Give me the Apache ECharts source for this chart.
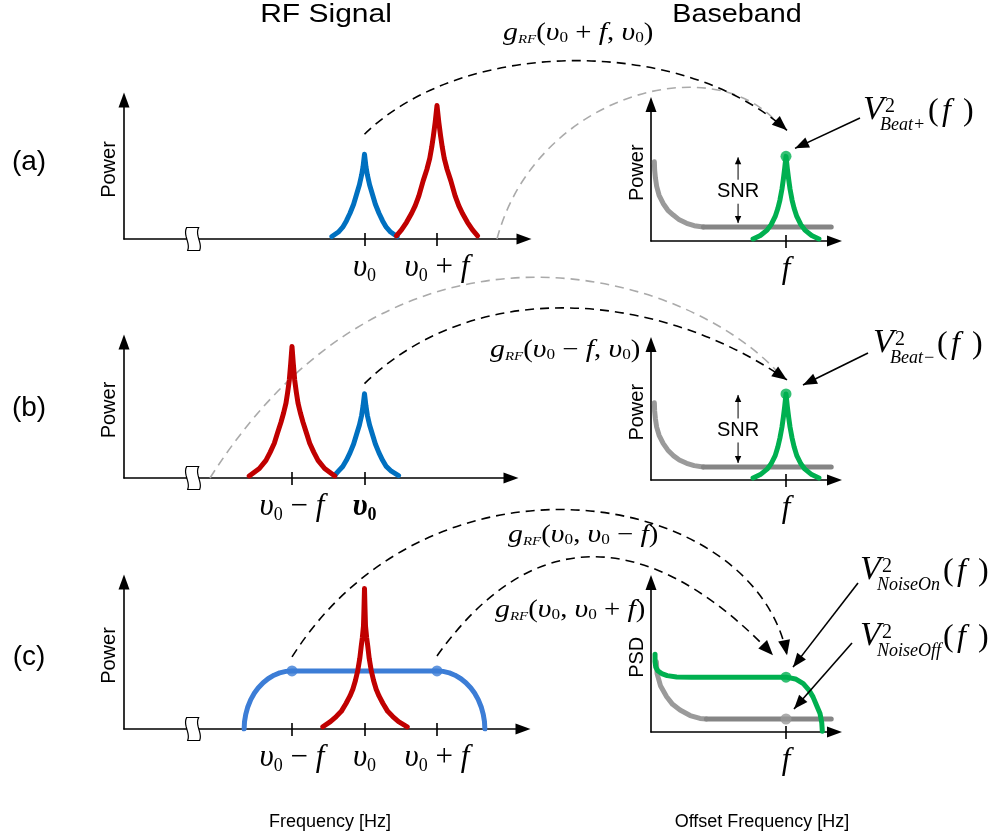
<!DOCTYPE html>
<html><head><meta charset="utf-8">
<script src="https://cdn.jsdelivr.net/npm/echarts@6/dist/echarts.min.js"></script>
<style>html,body{margin:0;padding:0;background:#fff}#c{width:997px;height:839px}</style>
</head><body><div id="c"></div>
<script>
// ---------------- data ----------------
// RF panels: x in units of f, nu0 = 0
const rfTicksA = [0, 1];
const rfTicksB = [-1, 0];
const rfTicksC = [-1, 0, 1];
const bbTicks = [1];
const rfTickText = { '-1': 'υ0 − f', '0': 'υ0', '1': 'υ0 + f' };
const bbTickText = { '1': 'f' };

const blueA = [[-0.45,0.018],[-0.36,0.05],[-0.3,0.085],[-0.25,0.13],[-0.2,0.185],[-0.15,0.25],[-0.11,0.32],[-0.07,0.39],[-0.04,0.46],[-0.02,0.52],[0,0.61],[0.02,0.52],[0.04,0.46],[0.07,0.39],[0.11,0.32],[0.15,0.25],[0.2,0.185],[0.25,0.13],[0.3,0.085],[0.36,0.05],[0.45,0.018]];
const redA = [[0.44,0.022],[0.51,0.065],[0.58,0.12],[0.65,0.185],[0.7,0.24],[0.75,0.31],[0.81,0.42],[0.86,0.50],[0.9,0.58],[0.927,0.66],[0.95,0.74],[0.975,0.84],[1,0.96],[1.025,0.84],[1.05,0.74],[1.073,0.66],[1.1,0.58],[1.14,0.50],[1.19,0.42],[1.25,0.31],[1.3,0.24],[1.35,0.185],[1.42,0.12],[1.49,0.065],[1.56,0.022]];

const redB = [[-1.59,0.015],[-1.45,0.07],[-1.359,0.13],[-1.3,0.19],[-1.244,0.255],[-1.2,0.33],[-1.152,0.41],[-1.115,0.48],[-1.083,0.55],[-1.06,0.63],[-1.037,0.72],[-1.018,0.84],[-1,0.967],[-0.982,0.84],[-0.963,0.72],[-0.94,0.63],[-0.917,0.55],[-0.885,0.48],[-0.848,0.41],[-0.8,0.33],[-0.756,0.255],[-0.7,0.19],[-0.641,0.13],[-0.55,0.07],[-0.41,0.015]];
const blueB = [[-0.41,0.02],[-0.36,0.05],[-0.3,0.085],[-0.25,0.13],[-0.2,0.185],[-0.15,0.25],[-0.11,0.32],[-0.07,0.39],[-0.04,0.46],[-0.02,0.53],[0,0.62],[0.02,0.53],[0.04,0.46],[0.07,0.39],[0.11,0.32],[0.15,0.25],[0.2,0.185],[0.25,0.13],[0.3,0.085],[0.37,0.05],[0.47,0.018]];

const plateauC = [[-1.66,0],[-1.655,0.05],[-1.638,0.1],[-1.61,0.15],[-1.569,0.2],[-1.518,0.245],[-1.467,0.279],[-1.398,0.315],[-1.33,0.342],[-1.248,0.366],[-1.171,0.3815],[-1.083,0.392],[-1,0.395],[1,0.395],[1.083,0.392],[1.171,0.3815],[1.248,0.366],[1.33,0.342],[1.398,0.315],[1.467,0.279],[1.518,0.245],[1.569,0.2],[1.61,0.15],[1.638,0.1],[1.655,0.05],[1.66,0]];
const plateauDotsC = [[-1,0.395],[1,0.395]];
const redC = [[-0.575,0.015],[-0.47,0.05],[-0.39,0.085],[-0.32,0.12],[-0.253,0.175],[-0.2,0.225],[-0.161,0.27],[-0.125,0.33],[-0.092,0.40],[-0.065,0.48],[-0.046,0.56],[-0.03,0.62],[-0.014,0.70],[-0.007,0.82],[0,0.956],[0.007,0.82],[0.014,0.70],[0.03,0.62],[0.046,0.56],[0.065,0.48],[0.092,0.40],[0.125,0.33],[0.161,0.27],[0.2,0.225],[0.253,0.175],[0.32,0.12],[0.39,0.085],[0.47,0.05],[0.59,0.015]];

// Baseband panels: x in units of f
const grayCurveA = [[0.025,0.58],[0.027,0.52],[0.033,0.46],[0.042,0.40],[0.06,0.335],[0.09,0.275],[0.125,0.225],[0.165,0.19],[0.21,0.155],[0.264,0.13],[0.32,0.112],[0.388,0.102]];
const grayFlatA = [[0.388,0.102],[1.335,0.102]];
const greenA = [[0.756,0.015],[0.81,0.04],[0.86,0.08],[0.89,0.12],[0.92,0.18],[0.94,0.24],[0.955,0.30],[0.97,0.38],[0.98,0.45],[0.99,0.53],[1,0.62],[1.01,0.53],[1.02,0.45],[1.03,0.38],[1.045,0.30],[1.06,0.24],[1.08,0.18],[1.11,0.12],[1.14,0.08],[1.19,0.04],[1.244,0.015]];
const greenDotA = [[1,0.62]];

const grayCurveB = [[0.025,0.57],[0.027,0.51],[0.033,0.45],[0.042,0.39],[0.06,0.33],[0.09,0.27],[0.125,0.22],[0.165,0.18],[0.21,0.148],[0.264,0.123],[0.32,0.106],[0.388,0.096]];
const grayFlatB = [[0.388,0.096],[1.335,0.096]];
const greenB = [[0.756,0.015],[0.81,0.04],[0.86,0.08],[0.89,0.12],[0.92,0.18],[0.94,0.245],[0.955,0.31],[0.97,0.39],[0.98,0.46],[0.99,0.54],[1,0.635],[1.01,0.54],[1.02,0.46],[1.03,0.39],[1.045,0.31],[1.06,0.245],[1.08,0.18],[1.11,0.12],[1.14,0.08],[1.19,0.04],[1.244,0.015]];
const greenDotB = [[1,0.635]];

const greenC = [[0.03,0.52],[0.03,0.47],[0.035,0.435],[0.05,0.41],[0.079,0.391],[0.12,0.377],[0.19,0.368],[0.3,0.367],[1.0,0.367],[1.07,0.355],[1.128,0.323],[1.17,0.28],[1.2,0.235],[1.23,0.17],[1.252,0.124],[1.265,0.06],[1.269,0.005]];
const grayCurveC = [[0.04,0.47],[0.045,0.39],[0.07,0.31],[0.116,0.236],[0.16,0.185],[0.215,0.147],[0.29,0.11],[0.363,0.091],[0.41,0.087]];
const grayFlatC = [[0.41,0.087],[1.335,0.087]];
const greenDotC = [[1,0.367]];
const grayDotC = [[1,0.087]];

// ---------------- layout / style ----------------
const SANS = 'Liberation Sans', SERIF = 'Liberation Serif';
const BLUE = '#0070C0', BLUE2 = '#3C7DD6', RED = '#C00000', GREEN = '#00B050', GRAY1 = '#9a9a9a', GRAY2 = '#858585';

const grids = [
  {left:124, top:100, width:400, height:139},
  {left:124, top:342, width:387, height:136},
  {left:124, top:582, width:399, height:147},
  {left:651, top:104.5, width:183.5, height:136.5},
  {left:651, top:344.5, width:183.5, height:135.5},
  {left:651, top:582.5, width:183.5, height:149.5}
];
const rfMin = -3.3172, rfUnit = 72.5, bbUnit = 135;

const richRF = {
  v:{fontFamily:SERIF, fontStyle:'italic', fontSize:31, lineHeight:34, color:'#000'},
  vb:{fontFamily:SERIF, fontStyle:'italic', fontWeight:'bold', fontSize:31, lineHeight:34, color:'#000'},
  s:{fontFamily:SERIF, fontSize:18, lineHeight:14, verticalAlign:'bottom', color:'#000'},
  sb:{fontFamily:SERIF, fontWeight:'bold', fontSize:18, lineHeight:14, verticalAlign:'bottom', color:'#000'},
  o:{fontFamily:SERIF, fontSize:31, lineHeight:34, color:'#000'}
};
function rfFmt(bold){
  return function(v){
    const t = rfTickText[String(Math.round(v))];
    const vv = bold && Math.round(v) === 0 ? 'vb' : 'v', ss = bold && Math.round(v) === 0 ? 'sb' : 's';
    return t.replace(/υ0/, '{' + vv + '|υ}{' + ss + '|0}').replace(/ ([+−]) f$/, '{o| $1 }{v|f}');
  };
}
function bbFmt(v){ return '{v|' + bbTickText[String(Math.round(v))] + '}'; }

const xAxes = [], yAxes = [];
function addX(g, min, max, ticks, fmt){
  xAxes.push({gridIndex:g, type:'value', min:min, max:max, position:'bottom',
    axisLine:{show:true, onZero:false, symbol:['none','triangle'], symbolSize:[11,15], lineStyle:{color:'#000', width:1.6}},
    axisTick:{show:true, customValues:ticks, length:7, lineStyle:{color:'#000', width:1.6}},
    axisLabel:{show:true, customValues:ticks, formatter:fmt, margin:12, rich:richRF},
    splitLine:{show:false}});
  xAxes.push({gridIndex:g, type:'value', min:min, max:max, position:'bottom',
    axisLine:{show:false}, axisLabel:{show:false}, splitLine:{show:false},
    axisTick:{show:true, inside:true, customValues:ticks, length:6, lineStyle:{color:'#000', width:1.6}}});
}
function addY(g, name, gap){
  yAxes.push({gridIndex:g, type:'value', min:0, max:1,
    axisLine:{show:true, onZero:false, symbol:['none','triangle'], symbolSize:[11,15], lineStyle:{color:'#000', width:1.6}},
    axisTick:{show:false}, axisLabel:{show:false}, splitLine:{show:false},
    name:name, nameLocation:'middle', nameRotate:90, nameGap:gap,
    nameTextStyle:{fontFamily:SANS, fontSize:20, color:'#000'}});
}
addX(0, rfMin, rfMin + grids[0].width / rfUnit, rfTicksA, rfFmt(false));
addX(1, rfMin, rfMin + grids[1].width / rfUnit, rfTicksB, rfFmt(true));
addX(2, rfMin, rfMin + grids[2].width / rfUnit, rfTicksC, rfFmt(false));
for (let g = 3; g < 6; g++) addX(g, 0, grids[g].width / bbUnit, bbTicks, bbFmt);
for (let g = 0; g < 3; g++) addY(g, 'Power', 5);
addY(3, 'Power', 4); addY(4, 'Power', 4); addY(5, 'PSD', 4);

const series = [];
function line(g, data, color, z){
  series.push({type:'line', xAxisIndex:g*2, yAxisIndex:g, data:data, showSymbol:false, symbol:'none',
    silent:true, animation:false, z:z || 3,
    lineStyle:{color:color, width:5, cap:'round', join:'round'}});
  return series.length - 1;
}
function dots(g, data, color, size, z){
  series.push({type:'scatter', xAxisIndex:g*2, yAxisIndex:g, data:data, symbol:'circle', symbolSize:size || 11,
    silent:true, animation:false, z:z || 5, itemStyle:{color:color}});
  return series.length - 1;
}
const sA = line(0, blueA, BLUE, 3); line(0, redA, RED, 4);
const sB = line(1, redB, RED, 4); line(1, blueB, BLUE, 3);
const sC = line(2, plateauC, BLUE2, 3); line(2, redC, RED, 4); dots(2, plateauDotsC, BLUE2, 11);
const sBA = line(3, grayCurveA, GRAY1, 3); line(3, grayFlatA, GRAY2, 3); line(3, greenA, GREEN, 4); dots(3, greenDotA, GREEN, 11);
const sBB = line(4, grayCurveB, GRAY1, 3); line(4, grayFlatB, GRAY2, 3); line(4, greenB, GREEN, 4); dots(4, greenDotB, GREEN, 11);
const sBC = line(5, grayCurveC, GRAY1, 3); line(5, grayFlatC, GRAY2, 3); line(5, greenC, GREEN, 4); dots(5, greenDotC, GREEN, 11, 6); dots(5, grayDotC, '#999', 11, 6);

const chart = echarts.init(document.getElementById('c'));
chart.setOption({
  animation:false,
  backgroundColor:'#fff',
  grid:grids.map(g => Object.assign({containLabel:false}, g)),
  xAxis:xAxes, yAxis:yAxes, series:series
});

// ---------------- annotations ----------------
const px = (s, p) => chart.convertToPixel({seriesIndex:s}, p);
const G = [];
function text(x, y, t, font, opt){
  opt = opt || {};
  G.push({type:'text', x:x, y:y, scaleX:opt.sx || 1, z:20,
    style:{text:t, x:0, y:0, font:font, fill:opt.fill || '#000', align:opt.align || 'center', verticalAlign:'middle'}});
}
function head(tip, from, L, W, color, z){
  const dx = tip[0] - from[0], dy = tip[1] - from[1], d = Math.hypot(dx, dy);
  const ux = dx / d, uy = dy / d, bx = tip[0] - L * ux, by = tip[1] - L * uy;
  G.push({type:'polygon', z:z || 21, shape:{points:[tip, [bx - W * uy, by + W * ux], [bx + W * uy, by - W * ux]]}, style:{fill:color}});
}
function arc(p0, p1, p2, p3, color, arrow){
  G.push({type:'bezierCurve', z:1, shape:{x1:p0[0], y1:p0[1], cpx1:p1[0], cpy1:p1[1], cpx2:p2[0], cpy2:p2[1], x2:p3[0], y2:p3[1]},
    style:{stroke:color, lineWidth:1.6, lineDash:[9, 6], fill:null}});
  if (arrow) head(p3, p2, 15, 6, color, 2);
}
function solidArrow(from, tip){
  G.push({type:'line', z:20, shape:{x1:from[0], y1:from[1], x2:tip[0], y2:tip[1]}, style:{stroke:'#000', lineWidth:1.6}});
  head(tip, from, 14, 5.5, '#000');
}
function thinArrow(from, tip){
  G.push({type:'line', z:20, shape:{x1:from[0], y1:from[1], x2:tip[0], y2:tip[1]}, style:{stroke:'#000', lineWidth:1}});
  head(tip, from, 7, 3.2, '#000');
}
function bez(a, b, c, d, n){
  const out = [];
  for (let i = 0; i <= n; i++) {
    const t = i / n, u = 1 - t;
    out.push([u*u*u*a[0] + 3*u*u*t*b[0] + 3*u*t*t*c[0] + t*t*t*d[0], u*u*u*a[1] + 3*u*u*t*b[1] + 3*u*t*t*c[1] + t*t*t*d[1]]);
  }
  return out;
}

// titles
text(326, 15, 'RF Signal', '25px "Liberation Sans"', {sx:1.2});
text(737, 15, 'Baseband', '25px "Liberation Sans"', {sx:1.15});
text(29, 162, '(a)', '28px "Liberation Sans"');
text(29, 408, '(b)', '28px "Liberation Sans"');
text(29, 657, '(c)', '28px "Liberation Sans"');
text(330, 822, 'Frequency [Hz]', '18px "Liberation Sans"');
text(762, 822, 'Offset Frequency [Hz]', '18px "Liberation Sans"');

// axis break symbols
const leftEdge = bez([-6,-11.5], [-10,-4], [-2,4], [-5,11.5], 10);
const rightEdge = bez([7,11.5], [10,4], [2,-4], [6,-11.5], 10);
[sA, sB, sC].forEach(s => {
  const p = px(s, [-2.37, 0]);
  G.push({type:'polygon', x:p[0], y:p[1], z:15,
    shape:{points:leftEdge.concat(rightEdge)},
    style:{fill:'#fff', stroke:'#000', lineWidth:1.2}});
});

// SNR markers
[[sBA, 0.62, 0.102], [sBB, 0.635, 0.096]].forEach(([s, top, bot]) => {
  const pt = px(s, [0.645, top]), pb = px(s, [0.645, bot]);
  const mid = (pt[1] + pb[1]) / 2;
  text(pt[0], mid, 'SNR', '20px "Liberation Sans"');
  thinArrow([pt[0], mid - 12], [pt[0], pt[1] + 1]);
  thinArrow([pt[0], mid + 12], [pt[0], pb[1] - 4]);
});

// g_RF labels (rich)
const gRich = {
  g:{fontFamily:SERIF, fontStyle:'italic', fontSize:26},
  r:{fontFamily:SERIF, fontStyle:'italic', fontSize:13, verticalAlign:'bottom', lineHeight:14},
  p:{fontFamily:SERIF, fontSize:25},
  u:{fontFamily:SERIF, fontStyle:'italic', fontSize:26},
  z:{fontFamily:SERIF, fontSize:15, verticalAlign:'bottom', lineHeight:12},
  f:{fontFamily:SERIF, fontStyle:'italic', fontSize:26}
};
function gLabel(x, y, inner){
  G.push({type:'text', x:x, y:y, scaleX:1.15, z:20,
    style:{text:'{g|g}{r|RF}{p|(}' + inner + '{p|)}', x:0, y:0, align:'left', verticalAlign:'middle', fill:'#000', rich:gRich}});
}
gLabel(503, 33, '{u|υ}{z|0}{p| + }{f|f}{p|, }{u|υ}{z|0}');
gLabel(490, 350, '{u|υ}{z|0}{p| − }{f|f}{p|, }{u|υ}{z|0}');
gLabel(508, 535, '{u|υ}{z|0}{p|, }{u|υ}{z|0}{p| − }{f|f}');
gLabel(495, 610, '{u|υ}{z|0}{p|, }{u|υ}{z|0}{p| + }{f|f}');

// V^2 labels
function vLabel(x, base, sub, pdx){
  G.push({type:'text', z:20, x:x, y:base - 11, style:{text:'V', x:0, y:0, font:'italic 34px "Liberation Serif"', fill:'#000', align:'left', verticalAlign:'middle'}});
  G.push({type:'text', z:20, x:x + 22, y:base - 14, style:{text:'2', x:0, y:0, font:'20px "Liberation Serif"', fill:'#000', align:'left', verticalAlign:'middle'}});
  G.push({type:'text', z:20, x:x + 17, y:base + 4, style:{text:sub, x:0, y:0, font:'italic 18px "Liberation Serif"', fill:'#000', align:'left', verticalAlign:'middle'}});
  G.push({type:'text', z:20, x:x + pdx, y:base - 9, style:{text:'(', x:0, y:0, font:'32px "Liberation Serif"', fill:'#000', align:'left', verticalAlign:'middle'}});
  G.push({type:'text', z:20, x:x + pdx + 14, y:base - 9, style:{text:'f', x:0, y:0, font:'italic 32px "Liberation Serif"', fill:'#000', align:'left', verticalAlign:'middle'}});
  G.push({type:'text', z:20, x:x + pdx + 35, y:base - 9, style:{text:')', x:0, y:0, font:'32px "Liberation Serif"', fill:'#000', align:'left', verticalAlign:'middle'}});
}
vLabel(863, 121, 'Beat+', 65);
vLabel(873, 354, 'Beat−', 64);
vLabel(860, 581, 'NoiseOn', 83);
vLabel(860, 647, 'NoiseOff', 83);

// pointer arrows to baseband markers
const gA = px(sBA, greenDotA[0]), gB = px(sBB, greenDotB[0]), gC = px(sBC, greenDotC[0]), yC = px(sBC, grayDotC[0]);
solidArrow([860, 118], [gA[0] + 9, gA[1] - 8]);
solidArrow([868, 353], [gB[0] + 17, gB[1] - 9]);
solidArrow([858, 583], [gC[0] + 7, gC[1] - 10]);
solidArrow([852, 643], [yC[0] + 8, yC[1] - 10]);

// dashed transfer arcs
const bA = px(sA, [0, 0.61]), bB = px(sB + 1, [0, 0.62]);
const dL = px(sC, [-1, 0.395]), dR = px(sC, [1, 0.395]);
arc([497, 239], [535, 95], [715, 45], [780, 126], '#aaaaaa', false);
arc([bA[0], bA[1] - 20], [464, 37], [682, 36.5], [gA[0] + 1, gA[1] - 26], '#000', true);
arc([210, 478], [400, 178], [697, 276], [783, 378], '#aaaaaa', false);
arc([bB[0], bB[1] - 10], [474, 276.5], [657, 290], [gB[0] + 1, gB[1] - 14], '#000', true);
arc([dL[0], dL[1] - 14], [433, 435], [754, 488], [gC[0] + 1, gC[1] - 22], '#000', true);
arc([dR[0], dR[1] - 15], [552, 495], [679, 556], [gC[0] - 13, gC[1] - 22], '#000', true);

chart.setOption({graphic:{elements:G}});
</script></body></html>
